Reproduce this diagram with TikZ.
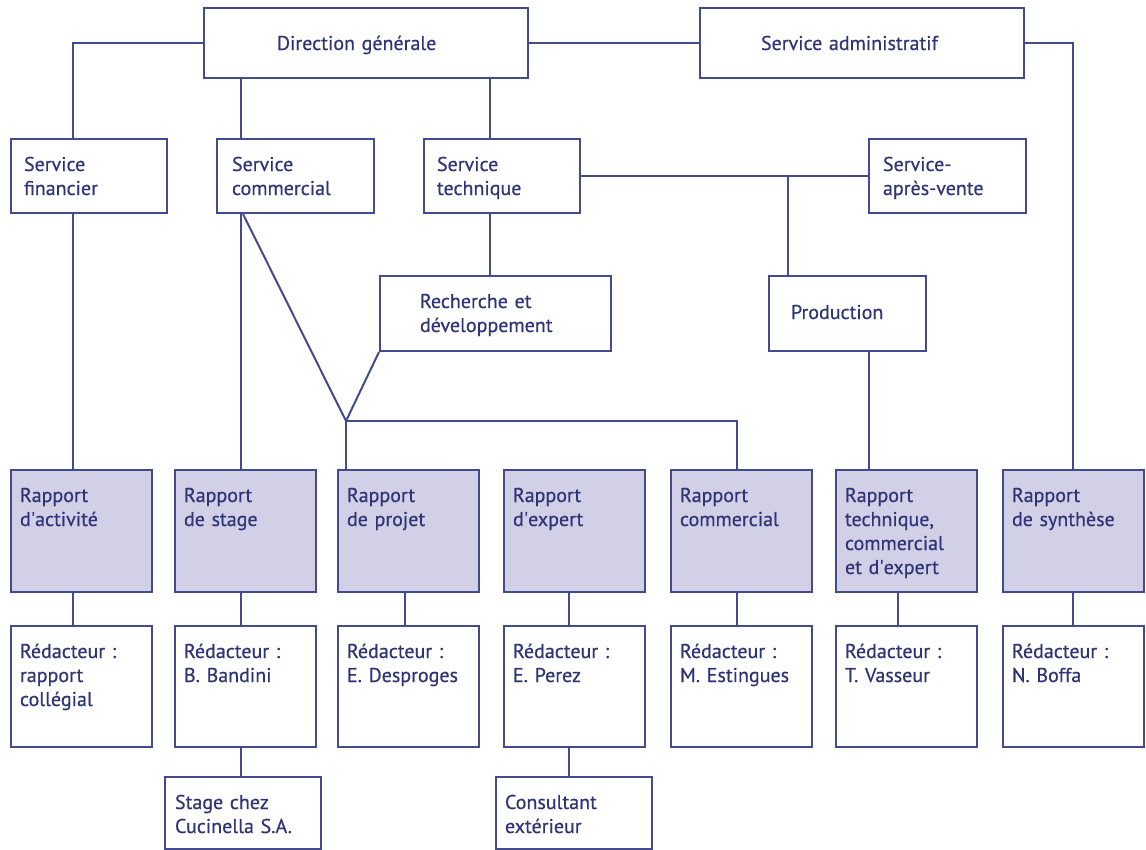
\documentclass[tikz,border=0pt]{standalone}
\usepackage{fontspec}
\setmainfont{PT Sans}[FakeBold=0.5]
\usetikzlibrary{calc}
\definecolor{ln}{HTML}{434A8E}
\definecolor{tx}{HTML}{2E3476}
\definecolor{fl}{HTML}{D2D0E7}
\newcommand{\aq}{\textquotesingle}
\begin{document}
\begin{tikzpicture}[x=1pt,y=-1pt,
  conn/.style={draw=ln, line width=2pt},
  bx/.style={draw=ln, line width=2pt, text=tx, font=\fontsize{20}{24}\selectfont,
    inner ysep=0pt, align=left, anchor=north west, text height=32pt},
  ctr/.style={bx, text height=42pt, text depth=28pt},
  svc/.style={bx, inner xsep=13pt, text width=130pt, text depth=42pt},
  rep/.style={bx, fill=fl, inner xsep=9pt, text width=123pt, text depth=90pt},
  red/.style={bx, fill=white, inner xsep=9pt, text width=123pt, text depth=89pt},
  ext/.style={bx, inner xsep=10pt, text width=136pt, text depth=40pt}
]
\useasboundingbox (0,0) rectangle (1146,849);
% top level
\node[ctr, inner xsep=73pt, text width=178pt] (dir) at (203,7) {Direction~générale};
\node[ctr, inner xsep=61pt, text width=202pt] (sa) at (699,7) {Service~administratif};
% services
\node[svc] (sf) at (10,138) {Service\\financier};
\node[svc, inner xsep=15pt, text width=127pt] (sc) at (216,138) {Service\\commercial};
\node[svc] (st) at (423,138) {Service\\technique};
\node[svc, inner xsep=14pt, text width=129pt] (sav) at (868,138) {Service-\\après-vente};
\node[bx, inner xsep=40pt, text width=151pt, text depth=43pt] (rd) at (379,275) {Recherche~et\\développement};
\node[bx, inner xsep=22pt, text width=113pt, text height=43pt, text depth=32pt] (prod) at (768,275) {Production};
% reports
\node[rep] (r1) at (10,469) {Rapport\\d\aq activité};
\node[rep] (r2) at (174,469) {Rapport\\de~stage};
\node[rep] (r3) at (337,469) {Rapport\\de~projet};
\node[rep] (r4) at (503,469) {Rapport\\d\aq expert};
\node[rep] (r5) at (670,469) {Rapport\\commercial};
\node[rep] (r6) at (835,469) {Rapport\\technique,\\commercial\\et~d\aq expert};
\node[rep] (r7) at (1002,469) {Rapport\\de~synthèse};
% redacteurs
\node[red] (w1) at (10,625) {Rédacteur~:\\rapport\\collégial};
\node[red] (w2) at (174,625) {Rédacteur~:\\B.~Bandini};
\node[red] (w3) at (337,625) {Rédacteur~:\\E.~Desproges};
\node[red] (w4) at (503,625) {Rédacteur~:\\E.~Perez};
\node[red] (w5) at (670,625) {Rédacteur~:\\M.~Estingues};
\node[red] (w6) at (835,625) {Rédacteur~:\\T.~Vasseur};
\node[red] (w7) at (1002,625) {Rédacteur~:\\N.~Boffa};
% external
\node[ext] (e1) at (164,776) {Stage~chez\\Cucinella~S.A.};
\node[ext, inner xsep=9pt, text width=138pt] (e2) at (495,776) {Consultant\\extérieur};
% x positions of connectors
\coordinate (xa) at (73,0);
\coordinate (xb) at (241,0);
\coordinate (xc) at (490,0);
\coordinate (xp) at (788,0);
\coordinate (xm) at (737,0);
\coordinate (xq) at (869,0);
\coordinate (xs) at (1073,0);
\coordinate (k3) at (405,0);
\coordinate (k4) at (569,0);
\coordinate (k6) at (898,0);
\coordinate (J) at (346,421);
% connectors
\draw[conn] (dir.west) -| (sf.north -| xa);
\draw[conn] (dir.east) -- (sa.west);
\draw[conn] (sa.east) -| (r7.north -| xs);
\draw[conn] (dir.south -| xb) -- (sc.north -| xb);
\draw[conn] (dir.south -| xc) -- (st.north -| xc);
\draw[conn] (st.south -| xc) -- (rd.north -| xc);
\draw[conn] (st.east) -- (sav.west);
\draw[conn] (st.east -| xp) -- (prod.north -| xp);
\draw[conn] (sf.south -| xa) -- (r1.north -| xa);
\draw[conn] (sc.south -| xb) -- (r2.north -| xb);
\draw[conn] (sc.south -| xb) ++(2,0) -- (J);
\draw[conn] (rd.south west) -- (J);
\draw[conn] (J) -- (r3.north -| J);
\draw[conn] (J) -| (r5.north -| xm);
\draw[conn] (prod.south -| xq) -- (r6.north -| xq);
\draw[conn] (r1.south -| xa) -- (w1.north -| xa);
\draw[conn] (r2.south -| xb) -- (w2.north -| xb);
\draw[conn] (r3.south -| k3) -- (w3.north -| k3);
\draw[conn] (r4.south -| k4) -- (w4.north -| k4);
\draw[conn] (r5.south -| xm) -- (w5.north -| xm);
\draw[conn] (r6.south -| k6) -- (w6.north -| k6);
\draw[conn] (r7.south -| xs) -- (w7.north -| xs);
\draw[conn] (w2.south -| xb) -- (e1.north -| xb);
\draw[conn] (w4.south -| k4) -- (e2.north -| k4);
\end{tikzpicture}
\end{document}
